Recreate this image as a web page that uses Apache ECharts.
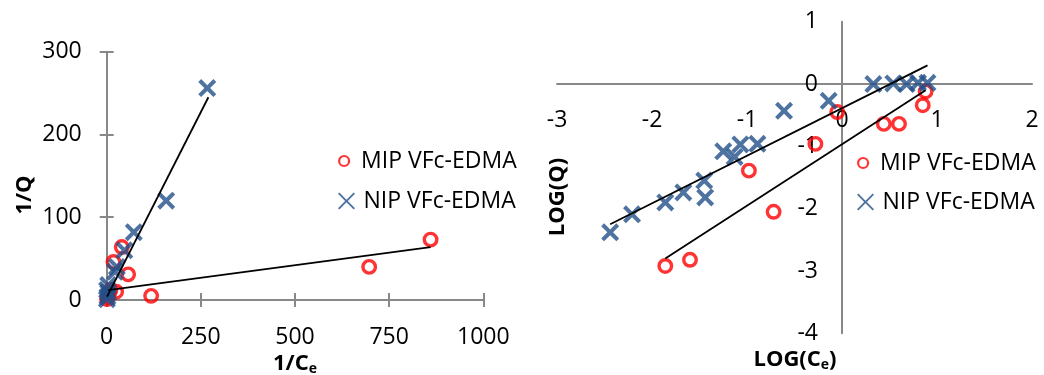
<!DOCTYPE html>
<html><head><meta charset="utf-8">
<script src="https://cdn.jsdelivr.net/npm/echarts@6/dist/echarts.min.js"></script>
<style>html,body{margin:0;padding:0;background:#fff}#c{width:1044px;height:375px}</style>
</head><body><div id="c"></div>
<script>
// ---- Left chart: 1/Q vs 1/Ce ----
const leftXTicks = [0, 250, 500, 750, 1000];
const leftYTicks = [0, 100, 200, 300];
const mipInv = [[1,1],[3,4],[6,8],[10,12],[25,10],[18,46],[40,64],[57,31],[118,5],[697,40],[860,73]];
const nipInv = [[0.5,1],[2,4],[4,9],[1,12],[4,18],[22,34],[27,40],[47,60],[72,82],[158,120],[267,256]];
const mipInvTrend = [[4,12],[860,64]];
const nipInvTrend = [[1,4],[270,245]];

// ---- Right chart: LOG(Q) vs LOG(Ce) ----
const rightXTicks = [-3, -2, -1, 0, 1, 2];
const rightYTicks = [-4, -3, -2, -1, 0, 1];
const mipLog = [[-1.86,-2.92],[-1.60,-2.82],[-0.98,-1.39],[-0.72,-2.05],[-0.28,-0.96],[-0.05,-0.45],[0.44,-0.64],[0.60,-0.64],[0.85,-0.34],[0.88,-0.12]];
const nipLog = [[-2.44,-2.38],[-2.21,-2.09],[-1.86,-1.90],[-1.67,-1.74],[-1.44,-1.82],[-1.45,-1.55],[-1.25,-1.08],[-1.13,-1.17],[-1.07,-0.97],[-0.89,-0.96],[-0.61,-0.43],[-0.14,-0.27],[0.33,0.0],[0.54,0.01],[0.68,0.0],[0.80,0.02],[0.90,0.02]];
const mipLogTrend = [[-1.86,-2.80],[0.88,-0.10]];
const nipLogTrend = [[-2.44,-2.25],[0.90,0.30]];

const seriesNames = ['MIP VFc-EDMA', 'NIP VFc-EDMA'];

const red = '#FF0000', blue = '#225089', axisColor = '#888888';
const font = '"Open Sans", sans-serif';
const xPath = 'path://M0,1.6L1.6,0L5,3.4L8.4,0L10,1.6L6.6,5L10,8.4L8.4,10L5,6.6L1.6,10L0,8.4L3.4,5Z';
const xPathThin = 'path://M0,0.8L0.8,0L5,4.2L9.2,0L10,0.8L5.8,5L10,9.2L9.2,10L5,5.8L0.8,10L0,9.2L4.2,5Z';

// right chart geometry (grid) used to place the crossing axes at zero
const rGrid = {left:557, right:12, top:21.7, bottom:41.7};
const rW = 1044 - rGrid.left - rGrid.right, rH = 375 - rGrid.top - rGrid.bottom;

function rng(t){ return {min:t[0], max:t[t.length-1], interval:t[1]-t[0]}; }
const lbl = {fontFamily:font, fontSize:23, color:'#000', lineHeight:22, formatter:function(v){return String(v);}};

function mainAxis(gi, ticks, pos, margin, offset, showTick){
  return Object.assign({type:'value', gridIndex:gi, position:pos, offset:offset,
    axisLine:{show:true, onZero:false, lineStyle:{color:axisColor, width:2}},
    axisTick:{show:showTick, length:7, lineStyle:{color:axisColor, width:2}},
    axisLabel:Object.assign({margin:margin}, lbl),
    splitLine:{show:false}}, rng(ticks));
}
function innerTickAxis(gi, ticks, pos){
  return Object.assign({type:'value', gridIndex:gi, position:pos,
    axisLine:{show:false, onZero:false},
    axisTick:{show:true, inside:true, length:7, lineStyle:{color:axisColor, width:2}},
    axisLabel:{show:false}, splitLine:{show:false}}, rng(ticks));
}
function circles(name, data, xi, yi){
  return {type:'scatter', name:name, data:data, xAxisIndex:xi, yAxisIndex:yi, symbol:'circle', symbolSize:12.5,
    itemStyle:{color:'rgba(255,255,255,0)', borderColor:red, borderWidth:3.4}, z:2, silent:true};
}
function crosses(name, data, xi, yi){
  return {type:'scatter', name:name, data:data, xAxisIndex:xi, yAxisIndex:yi, symbol:xPath, symbolSize:18,
    itemStyle:{color:blue}, z:3, silent:true};
}
function trend(data, xi, yi){
  return {type:'line', name:'trend', data:data, xAxisIndex:xi, yAxisIndex:yi, symbol:'none',
    lineStyle:{color:'#000', width:1.8}, z:4, silent:true, animation:false};
}
function legendItem(name, left, top, isCircle){
  return {show:true, orient:'vertical', left:left, top:top, padding:0, itemGap:0,
    itemWidth:24, itemHeight:isCircle?10:17, symbolKeepAspect:true, selectedMode:false,
    textStyle:{fontFamily:font, fontSize:23, color:'#000', lineHeight:26},
    data:[isCircle ? {name:name, icon:'circle', itemStyle:{color:'rgba(255,255,255,0)', borderColor:red, borderWidth:2.2}}
                   : {name:name, icon:xPathThin, itemStyle:{color:blue, borderWidth:0}}]};
}
function title(text, x, y, rot){
  return {type:'text', x:x, y:y, rotation:rot||0, silent:true,
    style:{text:text, align:'center', verticalAlign:'middle', textAlign:'center', textVerticalAlign:'middle', fill:'#000',
      rich:{b:{fontFamily:font, fontSize:22, fontWeight:'bold', fill:'#000', color:'#000'},
            s:{fontFamily:font, fontSize:14, fontWeight:'bold', fill:'#000', color:'#000', padding:[10,0,0,0]}}}};
}

// offsets that put the right chart's axes through the origin (value 0)
const rx = rng(rightXTicks), ry = rng(rightYTicks);
const xAxisOffset = -rH * (0 - ry.min) / (ry.max - ry.min);   // move x axis up to y = 0
const yAxisOffset = -rW * (0 - rx.min) / (rx.max - rx.min);   // move y axis right to x = 0

const chart = echarts.init(document.getElementById('c'), null, {renderer:'canvas'});
chart.setOption({
  animation:false,
  backgroundColor:'#fff',
  grid:[
    {left:106.7, right:560.7, top:51.7, bottom:75},
    rGrid
  ],
  xAxis:[
    mainAxis(0, leftXTicks, 'bottom', 26, 0, true),
    innerTickAxis(0, leftXTicks, 'bottom'),
    mainAxis(1, rightXTicks, 'bottom', 25, xAxisOffset, false)
  ],
  yAxis:[
    mainAxis(0, leftYTicks, 'left', 25, 0, true),
    innerTickAxis(0, leftYTicks, 'left'),
    mainAxis(1, rightYTicks, 'left', 24, yAxisOffset, false)
  ],
  legend:[
    legendItem(seriesNames[0], 338, 148, true),
    legendItem(seriesNames[1], 338, 188, false),
    legendItem(seriesNames[0], 857, 150, true),
    legendItem(seriesNames[1], 857, 189, false)
  ],
  series:[
    circles(seriesNames[0], mipInv, 0, 0),
    crosses(seriesNames[1], nipInv, 0, 0),
    trend(mipInvTrend, 0, 0),
    trend(nipInvTrend, 0, 0),
    circles(seriesNames[0], mipLog, 2, 2),
    crosses(seriesNames[1], nipLog, 2, 2),
    trend(mipLogTrend, 2, 2),
    trend(nipLogTrend, 2, 2)
  ],
  graphic:[
    title('{b|1/C}{s|e}', 295, 364, 0),
    title('{b|1/Q}', 25, 195, Math.PI/2),
    title('{b|LOG(C}{s|e}{b|)}', 795, 360, 0),
    title('{b|LOG(Q)}', 558, 197, Math.PI/2)
  ]
});
</script>
</body></html>
